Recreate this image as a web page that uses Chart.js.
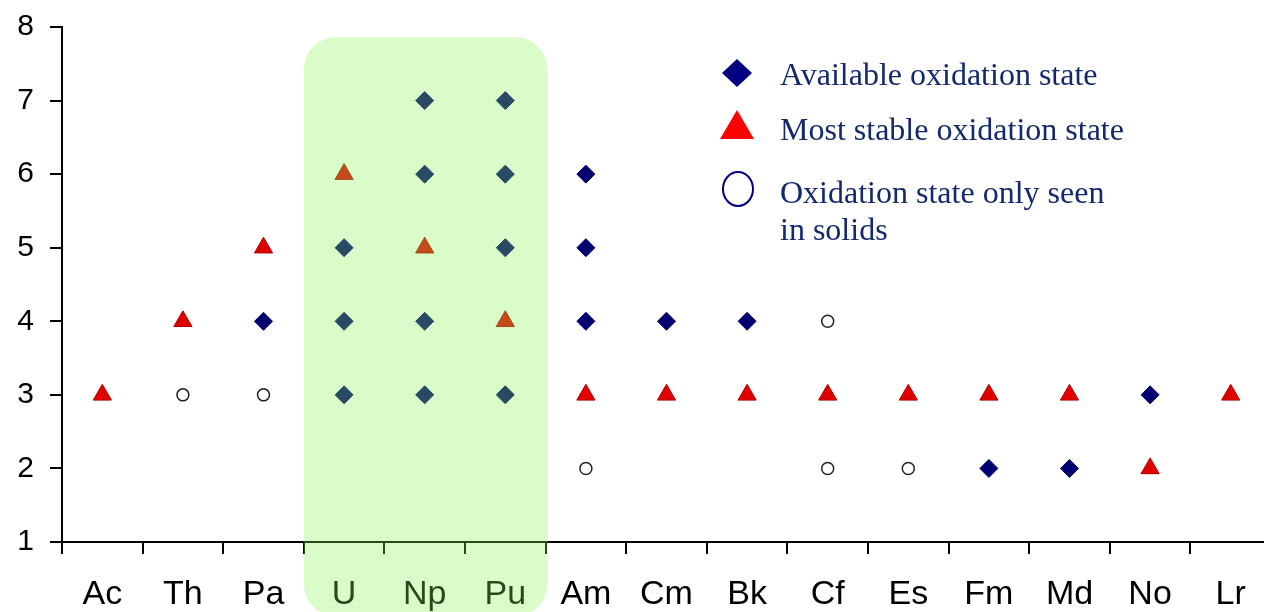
<!DOCTYPE html>
<html>
<head>
<meta charset="utf-8">
<script src="https://cdn.jsdelivr.net/npm/chart.js@4.4.1/dist/chart.umd.min.js"></script>
<style>
  body { margin: 0; background: #fff; overflow: hidden; }
  #wrap { width: 1271px; height: 612px; position: relative; }
</style>
</head>
<body>
<div id="wrap"><canvas id="oxChart"></canvas></div>
<script>
const elements = ['Ac', 'Th', 'Pa', 'U', 'Np', 'Pu', 'Am', 'Cm', 'Bk', 'Cf', 'Es', 'Fm', 'Md', 'No', 'Lr'];
// oxidation states per element, same order as elements
const availableStates = [[], [], [4], [5, 4, 3], [7, 6, 4, 3], [7, 6, 5, 3], [6, 5, 4], [4], [4], [], [], [2], [2], [3], []];
const mostStableStates = [3, 4, 5, 6, 5, 4, 3, 3, 3, 3, 3, 3, 3, 2, 3];
const solidOnlyStates = [[], [3], [3], [], [], [], [2], [], [], [4, 2], [2], [], [], [], []];
const yTicks = [1, 2, 3, 4, 5, 6, 7, 8];
const highlighted = ['U', 'Np', 'Pu'];
const legendLines = ['Available oxidation state', 'Most stable oxidation state', 'Oxidation state only seen', 'in solids'];

function toPoints(lists) {
  const pts = [];
  lists.forEach((states, i) => {
    states.forEach(s => pts.push({ x: elements[i], y: s }));
  });
  return pts;
}

const legendAndBox = {
  id: 'legendAndBox',
  afterDraw(chart) {
    const ctx = chart.ctx;
    const xs = chart.scales.x, ys = chart.scales.y;

    // legend
    ctx.save();
    ctx.fillStyle = '#000080';
    ctx.beginPath();
    ctx.moveTo(722, 73); ctx.lineTo(737, 59); ctx.lineTo(752, 73); ctx.lineTo(737, 87);
    ctx.closePath(); ctx.fill();
    ctx.fillStyle = '#ff0000';
    ctx.beginPath();
    ctx.moveTo(737, 110); ctx.lineTo(754, 139); ctx.lineTo(720, 139);
    ctx.closePath(); ctx.fill();
    ctx.strokeStyle = '#000080';
    ctx.lineWidth = 2;
    ctx.beginPath();
    ctx.ellipse(738, 189, 15, 17, 0, 0, Math.PI * 2);
    ctx.stroke();
    ctx.fillStyle = '#14286e';
    ctx.font = '32px "Liberation Serif", "Times New Roman", serif';
    ctx.textBaseline = 'alphabetic';
    ctx.fillText(legendLines[0], 780, 85);
    ctx.fillText(legendLines[1], 780, 140);
    ctx.fillText(legendLines[2], 780, 203);
    ctx.fillText(legendLines[3], 780, 240);
    ctx.restore();

    // translucent green box over U, Np, Pu
    const half = (xs.getPixelForValue(1) - xs.getPixelForValue(0)) / 2;
    const left = xs.getPixelForValue(elements.indexOf(highlighted[0])) - half;
    const right = xs.getPixelForValue(elements.indexOf(highlighted[highlighted.length - 1])) + half + 2;
    const top = ys.getPixelForValue(7.86);
    const bottom = chart.height + 4;
    const r = 32;
    ctx.save();
    ctx.fillStyle = 'rgba(132, 245, 72, 0.3)';
    ctx.beginPath();
    ctx.moveTo(left + r, top);
    ctx.lineTo(right - r, top);
    ctx.arcTo(right, top, right, top + r, r);
    ctx.lineTo(right, bottom - r);
    ctx.arcTo(right, bottom, right - r, bottom, r);
    ctx.lineTo(left + r, bottom);
    ctx.arcTo(left, bottom, left, bottom - r, r);
    ctx.lineTo(left, top + r);
    ctx.arcTo(left, top, left + r, top, r);
    ctx.closePath();
    ctx.fill();
    ctx.restore();
  }
};

const chart = new Chart(document.getElementById('oxChart').getContext('2d'), {
  type: 'scatter',
  data: {
    labels: elements,
    datasets: [
      {
        label: 'Available oxidation state',
        data: toPoints(availableStates),
        pointStyle: 'rectRot',
        pointRadius: 9,
        backgroundColor: '#000070',
        borderColor: '#000070',
        borderWidth: 1
      },
      {
        label: 'Most stable oxidation state',
        data: mostStableStates.map((s, i) => ({ x: elements[i], y: s })),
        pointStyle: 'triangle',
        pointRadius: 10.5,
        backgroundColor: '#e00000',
        borderColor: '#b00000',
        borderWidth: 1
      },
      {
        label: 'Oxidation state only seen in solids',
        data: toPoints(solidOnlyStates),
        pointStyle: 'circle',
        pointRadius: 6,
        backgroundColor: 'rgba(255,255,255,0)',
        borderColor: '#222',
        borderWidth: 1.5
      }
    ]
  },
  options: {
    responsive: true,
    maintainAspectRatio: false,
    animation: false,
    layout: { autoPadding: false, padding: { top: 27, right: 0, left: 0, bottom: 0 } },
    plugins: { legend: { display: false }, tooltip: { enabled: false } },
    scales: {
      x: {
        type: 'category',
        labels: elements,
        offset: true,
        grid: { offset: true, drawOnChartArea: false, drawTicks: true, tickLength: 12, color: '#000', lineWidth: 2 },
        border: { display: true, color: '#000', width: 2 },
        ticks: { color: '#000', padding: 20, font: { family: '"Liberation Sans", Arial, sans-serif', size: 34 } },
        afterFit(scale) { scale.height = 70; scale.paddingLeft = 0; scale.paddingRight = 0; }
      },
      y: {
        min: yTicks[0],
        max: yTicks[yTicks.length - 1],
        afterBuildTicks(scale) { scale.ticks = yTicks.map(v => ({ value: v })); },
        grid: { drawOnChartArea: false, drawTicks: true, tickLength: 12, color: '#000', lineWidth: 2 },
        border: { display: true, color: '#000', width: 2 },
        ticks: { color: '#000', padding: 16, font: { family: '"Liberation Sans", Arial, sans-serif', size: 30 } },
        afterFit(scale) { scale.width = 62; scale.paddingTop = 0; scale.paddingBottom = 0; }
      }
    }
  },
  plugins: [legendAndBox]
});
</script>
</body>
</html>
